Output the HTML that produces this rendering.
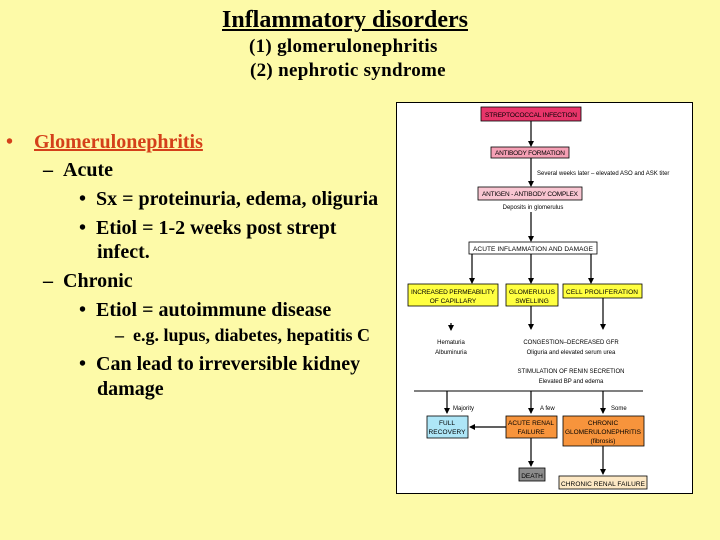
<!DOCTYPE html>
<html><head><meta charset="utf-8"><style>
body{margin:0;width:720px;height:540px;background:#fdfaa8;position:relative;overflow:hidden;font-family:"Liberation Serif",serif;font-weight:bold;color:#000}
.t{position:absolute;white-space:nowrap;line-height:1}
.l{font-size:20px}
</style></head><body>
<div class="t" style="left:222px;top:8px;font-size:24px;text-decoration:underline">Inflammatory disorders</div>
<div class="t" style="left:249px;top:37px;font-size:19px;letter-spacing:0.3px">(1) glomerulonephritis</div>
<div class="t" style="left:250px;top:61px;font-size:19px;letter-spacing:0.3px">(2) nephrotic syndrome</div>

<div class="t l" style="left:6px;top:132px;color:#d4401a">•</div>
<div class="t l" style="left:34px;top:132px;color:#d4401a;text-decoration:underline">Glomerulonephritis</div>
<div class="t l" style="left:43px;top:160px">–&nbsp;&nbsp;Acute</div>
<div class="t l" style="left:79px;top:189px">•&nbsp;&nbsp;Sx = proteinuria, edema, oliguria</div>
<div class="t l" style="left:79px;top:218px">•&nbsp;&nbsp;Etiol = 1-2 weeks post strept</div>
<div class="t l" style="left:97px;top:242px">infect.</div>
<div class="t l" style="left:43px;top:271px">–&nbsp;&nbsp;Chronic</div>
<div class="t l" style="left:79px;top:300px">•&nbsp;&nbsp;Etiol = autoimmune disease</div>
<div class="t" style="left:115px;top:326px;font-size:18px">–&nbsp;&nbsp;e.g. lupus, diabetes, hepatitis C</div>
<div class="t l" style="left:79px;top:354px">•&nbsp;&nbsp;Can lead to irreversible kidney</div>
<div class="t l" style="left:97px;top:379px">damage</div>

<svg style="position:absolute;left:0;top:0" width="720" height="540" font-family="Liberation Sans, sans-serif" font-size="6.5" font-weight="normal">
<defs><marker id="a" markerWidth="6" markerHeight="6" refX="5" refY="3" orient="auto" markerUnits="userSpaceOnUse"><path d="M0,0L6,3L0,6z" fill="#000"/></marker></defs>
<rect x="396.5" y="102.5" width="296" height="391" fill="#fff" stroke="#000"/>
<g stroke="#000" stroke-width="1.2" marker-end="url(#a)">
<line x1="531" y1="121" x2="531" y2="146"/>
<line x1="531" y1="158" x2="531" y2="186"/>
<line x1="531" y1="212" x2="531" y2="241"/>
<line x1="472" y1="254" x2="472" y2="283"/>
<line x1="531" y1="254" x2="531" y2="283"/>
<line x1="591" y1="254" x2="591" y2="283"/>
<line x1="451" y1="323" x2="451" y2="330"/>
<line x1="531" y1="306" x2="531" y2="329"/>
<line x1="603" y1="298" x2="603" y2="329"/>
<line x1="447" y1="391" x2="447" y2="413"/>
<line x1="531" y1="391" x2="531" y2="413"/>
<line x1="603" y1="391" x2="603" y2="413"/>
<line x1="506" y1="427" x2="470" y2="427"/>
<line x1="531" y1="438" x2="531" y2="466"/>
<line x1="603" y1="446" x2="603" y2="474"/>
</g>
<line x1="414" y1="391" x2="643" y2="391" stroke="#000"/>
<g stroke="#000" stroke-width="0.8">
<rect x="481" y="107" width="100" height="14" fill="#e8356a"/>
<rect x="491" y="147" width="78" height="11" fill="#f5a0b5"/>
<rect x="478" y="187" width="104" height="13" fill="#f9c6d2"/>
<rect x="469" y="242" width="128" height="12" fill="#fff"/>
<rect x="408" y="284" width="90" height="22" fill="#ffff40"/>
<rect x="506" y="284" width="52" height="22" fill="#ffff40"/>
<rect x="563" y="284" width="79" height="14" fill="#ffff40"/>
<rect x="427" y="416" width="41" height="22" fill="#aee6f7"/>
<rect x="506" y="416" width="51" height="22" fill="#f7943c"/>
<rect x="563" y="416" width="81" height="30" fill="#f7943c"/>
<rect x="519" y="468" width="26" height="13" fill="#8c8c8c"/>
<rect x="559" y="476" width="88" height="13" fill="#fde8c4"/>
</g>
<g text-anchor="middle">
<text x="531" y="117" textLength="92">STREPTOCOCCAL INFECTION</text>
<text x="530" y="155" textLength="70">ANTIBODY FORMATION</text>
<text x="530" y="196" textLength="96">ANTIGEN - ANTIBODY COMPLEX</text>
<text x="533" y="209" font-size="6">Deposits in glomerulus</text>
<text x="533" y="251" textLength="120">ACUTE INFLAMMATION AND DAMAGE</text>
<text x="453" y="294" textLength="84">INCREASED PERMEABILITY</text>
<text x="453" y="303">OF CAPILLARY</text>
<text x="532" y="294" textLength="46">GLOMERULUS</text>
<text x="532" y="303">SWELLING</text>
<text x="602" y="294" textLength="72">CELL PROLIFERATION</text>
<text x="451" y="344" font-size="6">Hematuria</text>
<text x="451" y="354" font-size="6">Albuminuria</text>
<text x="571" y="344" font-size="6">CONGESTION–DECREASED GFR</text>
<text x="571" y="354" font-size="6">Oliguria and elevated serum urea</text>
<text x="571" y="373" font-size="6">STIMULATION OF RENIN SECRETION</text>
<text x="571" y="383" font-size="6">Elevated BP and edema</text>
<text x="447" y="425">FULL</text>
<text x="447" y="434" textLength="37">RECOVERY</text>
<text x="531" y="425" textLength="46">ACUTE RENAL</text>
<text x="531" y="434">FAILURE</text>
<text x="603" y="425">CHRONIC</text>
<text x="603" y="434" textLength="76">GLOMERULONEPHRITIS</text>
<text x="603" y="443">(fibrosis)</text>
<text x="532" y="478">DEATH</text>
<text x="603" y="486" textLength="84">CHRONIC RENAL FAILURE</text>
</g>
<g font-size="6">
<text x="537" y="175">Several weeks later – elevated ASO and ASK titer</text>
<text x="453" y="410">Majority</text>
<text x="540" y="410">A few</text>
<text x="611" y="410">Some</text>
</g>
</svg>
</body></html>
